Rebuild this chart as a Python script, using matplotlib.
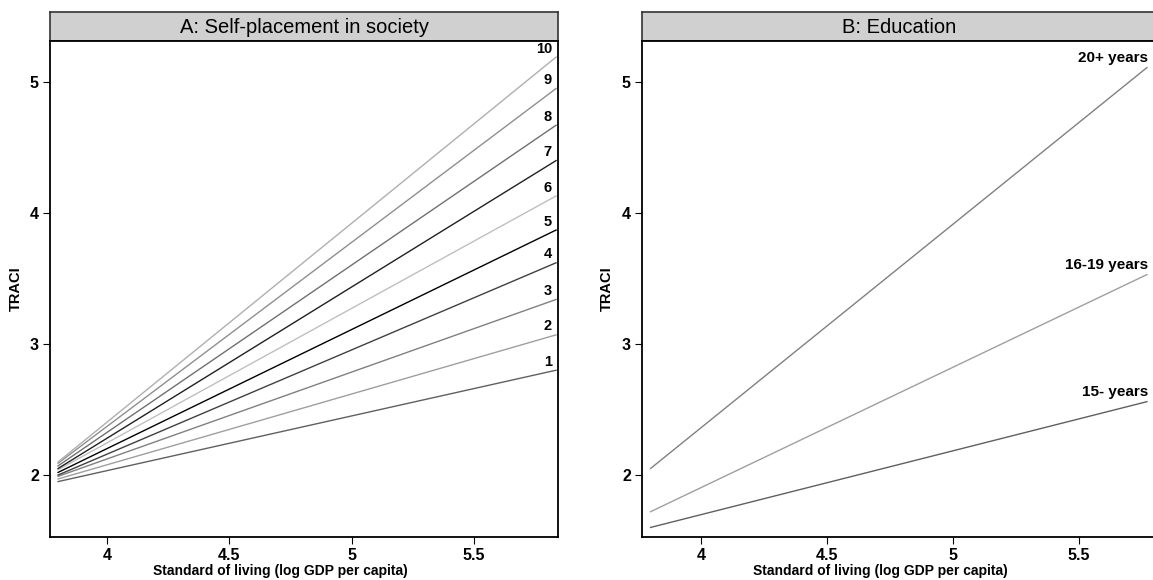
import matplotlib
matplotlib.use("Agg")
import matplotlib.pyplot as plt
import numpy as np

plt.rcParams['font.family'] = ['Liberation Sans', 'DejaVu Sans']

# Panel A: self-placement in society (fitted lines, start/end values)
x_a = np.array([3.80, 5.835])
place_labels = ['1', '2', '3', '4', '5', '6', '7', '8', '9', '10']
place_start = [1.95, 1.97, 1.99, 2.00, 2.02, 2.04, 2.05, 2.07, 2.09, 2.10]
place_end = [2.80, 3.07, 3.34, 3.62, 3.87, 4.13, 4.40, 4.67, 4.95, 5.19]
place_colors = ['#606060', '#9f9f9f', '#808080', '#404040', '#000000',
                '#bfbfbf', '#202020', '#707070', '#8f8f8f', '#afafaf']

# Panel B: education
x_b = np.array([3.80, 5.77])
edu_labels = ['15- years', '16-19 years', '20+ years']
edu_start = [1.60, 1.72, 2.05]
edu_end = [2.56, 3.53, 5.11]
edu_colors = ['#606060', '#9f9f9f', '#808080']

W, H = 1153, 580
fig = plt.figure(figsize=(W / 100, H / 100), dpi=100)


def px_axes(x0, x1, y0, y1):
    return fig.add_axes([x0 / W, 1 - y1 / H, (x1 - x0) / W, (y1 - y0) / H])


def panel(x0, x1, title, xlim, xlab_pos):
    strip = px_axes(x0, x1, 12, 41)
    strip.set_facecolor('#d0d0d0')
    strip.set_xticks([])
    strip.set_yticks([])
    for s in strip.spines.values():
        s.set_linewidth(1.2)
        s.set_color('#333333')
    strip.text(0.5, 0.47, title, ha='center', va='center', fontsize=14.5,
               transform=strip.transAxes)
    ax = px_axes(x0, x1, 41, 537)
    ax.set_xlim(*xlim)
    ax.set_ylim(1.527, 5.313)
    ax.set_xticks([4, 4.5, 5, 5.5])
    ax.set_xticklabels(['4', '4.5', '5', '5.5'])
    ax.set_yticks([2, 3, 4, 5])
    ax.tick_params(direction='out', length=5, width=0.8, labelsize=11.5, pad=3)
    for lab in ax.get_xticklabels() + ax.get_yticklabels():
        lab.set_fontweight('bold')
    for s in ax.spines.values():
        s.set_linewidth(1.3)
    ax.set_xlabel('Standard of living (log GDP per capita)', fontsize=10,
                  fontweight='bold')
    ax.xaxis.set_label_coords(xlab_pos, -0.054)
    ax.set_ylabel('TRACI', fontsize=10.5, fontweight='bold')
    ax.yaxis.set_label_coords(-0.054, 0.5)
    return ax


ax1 = panel(50, 558, 'A: Self-placement in society', (3.767, 5.843), 0.453)
for lab, y0, y1, c in zip(place_labels, place_start, place_end, place_colors):
    ax1.plot(x_a, [y0, y1], color=c, lw=1.0)
    ax1.annotate(lab, (x_a[-1], y1), xytext=(-3, 1), textcoords='offset points',
                 ha='right', va='bottom', fontsize=10.5, fontweight='bold')

ax2 = panel(642, 1157, 'B: Education', (3.766, 5.81), 0.462)
for lab, y0, y1, c in zip(edu_labels, edu_start, edu_end, edu_colors):
    ax2.plot(x_b, [y0, y1], color=c, lw=1.0)
    ax2.annotate(lab, (x_b[-1], y1), xytext=(1, 2), textcoords='offset points',
                 ha='right', va='bottom', fontsize=11, fontweight='bold')

fig.savefig('out.png', dpi=100)
